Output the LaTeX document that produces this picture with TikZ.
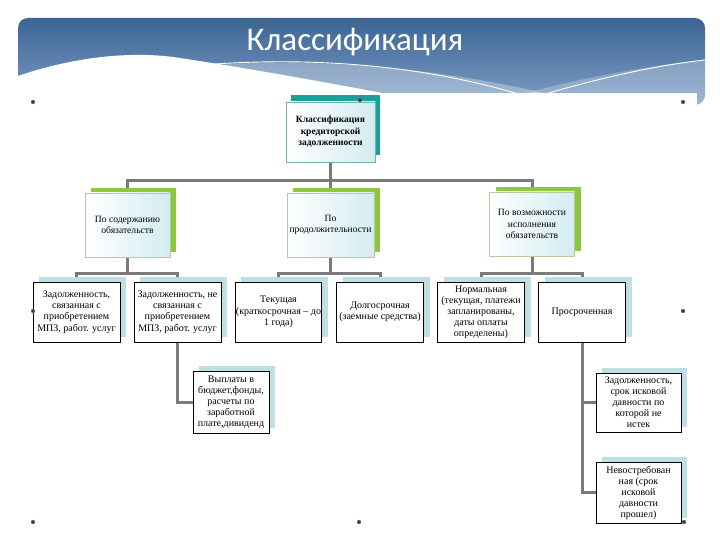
\documentclass[tikz,border=0pt]{standalone}
\usepackage{fontspec}
\setmainfont{Liberation Serif}
\newfontfamily\titlefont{Carlito}
\usetikzlibrary{shadows,backgrounds}
\definecolor{hdrA}{HTML}{3B6494}
\definecolor{hdrB}{HTML}{7F9EC6}
\definecolor{tealsh}{HTML}{1C9F9A}
\definecolor{topbd}{HTML}{6FAFAE}
\definecolor{grn}{HTML}{8DC63F}
\definecolor{grnbd}{HTML}{B4CC9C}
\definecolor{ltblue}{HTML}{BEDFE3}
\definecolor{conn}{HTML}{7A7A7A}
\definecolor{cyanf}{HTML}{D3ECF1}
\definecolor{handle}{HTML}{3A3A3A}
\begin{document}
\begin{tikzpicture}[x=1pt,y=-1pt,
  every node/.style={font=\fontsize{10}{11.4}\selectfont, align=center, inner sep=0.5pt},
  topbox/.style={draw=topbd, line width=0.8pt, left color=white, right color=cyanf,
    font=\bfseries\fontsize{9.5}{11.5}\selectfont,
    general shadow={fill=tealsh, shadow xshift=5pt, shadow yshift=7pt}},
  midbox/.style={draw=grnbd, line width=0.6pt, left color=white, right color=cyanf,
    font=\fontsize{9.6}{11.2}\selectfont,
    general shadow={fill=grn, shadow xshift=6pt, shadow yshift=5pt}},
  leafbox/.style={draw=black, line width=0.9pt, fill=white,
    general shadow={fill=ltblue, shadow xshift=6pt, shadow yshift=5pt}},
  conn/.style={draw=conn, line width=3pt},
  hdl/.style={fill=handle, draw=gray, line width=0.3pt}]
\useasboundingbox (0,0) rectangle (720,540);

\begin{scope}[on background layer]
  \fill[white] (0,0) rectangle (720,540);
  \shade[top color=hdrA, bottom color=hdrB, rounded corners=10pt] (18,18) rectangle (705,105);
  % light bands
  \fill[white, opacity=0.3] (200,66) .. controls (330,55) and (480,72) .. (600,108)
     -- (430,108) .. controls (360,88) and (280,72) .. (200,66) -- cycle;
  \fill[white, opacity=0.25] (470,108) .. controls (560,82) and (640,66) .. (705,60)
     -- (705,108) -- cycle;
  \draw[white, line width=0.9pt] (215,64) .. controls (350,55) and (470,74) .. (560,108);
  \draw[white, line width=0.9pt] (500,108) .. controls (580,82) and (650,66) .. (705,60);
  % white wave
  \fill[white] (18,76) .. controls (70,58) and (130,50) .. (180,58)
     .. controls (260,70) and (380,92) .. (470,110) -- (18,110) -- cycle;
  % picture area
  \fill[white] (33,93) rectangle (697,540);
\end{scope}

\node[white, font=\titlefont\fontsize{33}{35}\selectfont, anchor=base] (title) at (355,51) {Классификация};

% root
\node[topbox, minimum width=89pt, minimum height=60pt] (root) at (330.5,132)
  {Классификация\\кредиторской\\задолженности};

% level 2
\node[midbox, minimum width=85pt, minimum height=64pt] (L1) at (127.5,225)
  {По содержанию\\обязательств};
\node[midbox, minimum width=87pt, minimum height=64pt] (L2) at (330.5,225)
  {По\\продолжительности};
\node[midbox, minimum width=85pt, minimum height=64pt] (L3) at (532,224)
  {По возможности\\исполнения\\обязательств};

% level 3
\node[leafbox, minimum width=87pt, minimum height=60pt] (A) at (76.5,312)
  {Задолженность,\\связанная с\\приобретением\\МПЗ, работ. услуг};
\node[leafbox, minimum width=87pt, minimum height=60pt] (B) at (177.5,312)
  {Задолженность, не\\связанная с\\приобретением\\МПЗ, работ. услуг};
\node[leafbox, minimum width=86pt, minimum height=60pt] (C) at (278.5,312)
  {Текущая\\(краткосрочная – до\\1 года)};
\node[leafbox, minimum width=87pt, minimum height=60pt] (D) at (380,312)
  {Долгосрочная\\(заемные средства)};
\node[leafbox, minimum width=87pt, minimum height=60pt, font=\fontsize{10}{11}\selectfont] (E) at (481,312)
  {Нормальная\\(текущая, платежи\\запланированы,\\даты оплаты\\определены)};
\node[leafbox, minimum width=87pt, minimum height=60pt] (F) at (582,312)
  {Просроченная};

% level 4
\node[leafbox, minimum width=76pt, minimum height=62pt, font=\fontsize{10}{11}\selectfont] (G) at (231,402)
  {Выплаты в\\бюджет,фонды,\\расчеты по\\заработной\\плате,дивиденд};
\node[leafbox, minimum width=85pt, minimum height=59pt, font=\fontsize{10}{11}\selectfont] (H) at (638.5,402.5)
  {Задолженность,\\срок исковой\\давности по\\которой не\\истек};
\node[leafbox, minimum width=85pt, minimum height=61pt, font=\fontsize{10}{11}\selectfont] (I) at (638.5,492.5)
  {Невостребован\\ная (срок\\исковой\\давности\\прошел)};

% connectors
\coordinate (j0) at (0,181);
\coordinate (j1) at (0,273);
\begin{scope}[on background layer]
  \draw[conn] (root.south) -- (L2.north);
  \draw[conn] (L1.north) -- (L1.north |- j0) -- (L3.north |- j0) -- (L3.north);
  \draw[conn] (L1.south) -- (L1.south |- j1);
  \draw[conn] (A.north) -- (A.north |- j1) -- (B.north |- j1) -- (B.north);
  \draw[conn] (L2.south) -- (L2.south |- j1);
  \draw[conn] (C.north) -- (C.north |- j1) -- (D.north |- j1) -- (D.north);
  \draw[conn] (L3.south) -- (L3.south |- j1);
  \draw[conn] (E.north) -- (E.north |- j1) -- (F.north |- j1) -- (F.north);
  \draw[conn] (B.south) |- (G.west);
  \draw[conn] (F.south) |- (H.west);
  \draw[conn] (F.south) |- (I.west);
\end{scope}

% selection handles
\foreach \p in {(33,102),(683,102),(360,100),(33,311),(683,311),(33,522),(359,522),(684,522)}
  \fill[hdl] \p circle (2pt);
\end{tikzpicture}
\end{document}
